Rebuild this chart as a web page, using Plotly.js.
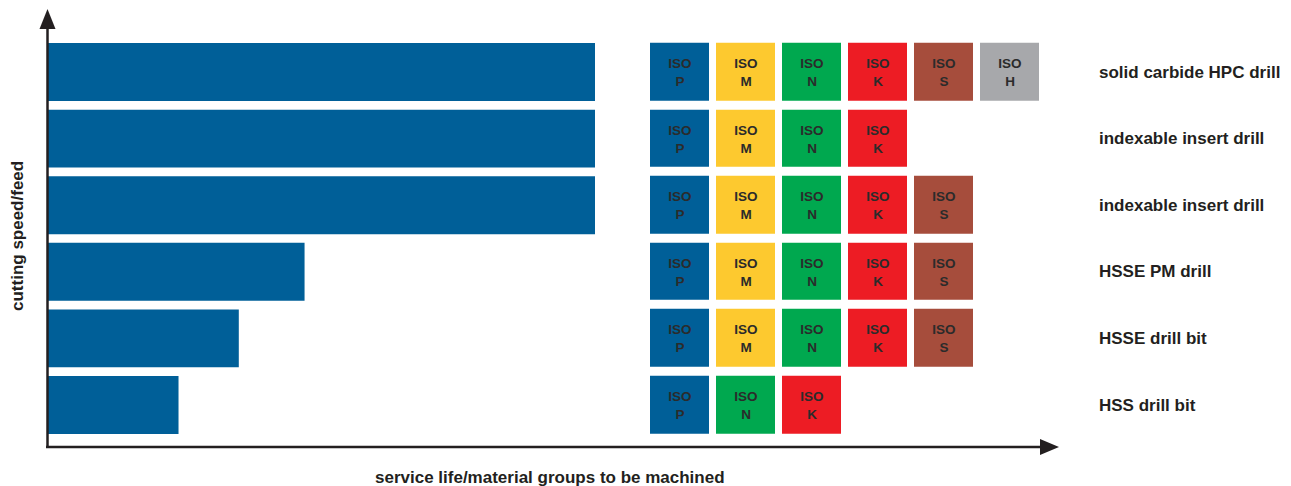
<!DOCTYPE html>
<html>
<head>
<meta charset="utf-8">
<script src="https://cdn.plot.ly/plotly-3.0.1.min.js"></script>
<style>
  html, body { margin: 0; padding: 0; background: #ffffff; }
  #chart { width: 1291px; height: 486px; }
</style>
</head>
<body>
<div id="chart"></div>
<script>
// ---- Data ----
const tools = [
  'solid carbide HPC drill',
  'indexable insert drill',
  'indexable insert drill',
  'HSSE PM drill',
  'HSSE drill bit',
  'HSS drill bit'
];
const serviceLife = [100, 100, 100, 47, 35, 24];
const materialGroups = [
  ['P', 'M', 'N', 'K', 'S', 'H'],
  ['P', 'M', 'N', 'K'],
  ['P', 'M', 'N', 'K', 'S'],
  ['P', 'M', 'N', 'K', 'S'],
  ['P', 'M', 'N', 'K', 'S'],
  ['P', 'N', 'K']
];
const isoCodes = ['P', 'M', 'N', 'K', 'S', 'H'];
const isoColors = ['#005f98', '#fdc92f', '#00a84f', '#ed1c24', '#a64d3c', '#a7a8ab'];
const xTitle = 'service life/material groups to be machined';
const yTitle = 'cutting speed/feed';

// ---- Build traces ----
const rowIdx = tools.map((_, i) => i);
const nCols = isoCodes.length;
const colIdx = isoCodes.map((_, j) => j);

const z = materialGroups.map(groups =>
  colIdx.map(j => (j < groups.length ? isoCodes.indexOf(groups[j]) : null)));
const txt = materialGroups.map(groups =>
  colIdx.map(j => (j < groups.length ? '<b>ISO</b><br><b>' + groups[j] + '</b>' : '')));

const colorscale = isoColors.map((c, k) => [k / (isoColors.length - 1), c]);

const fontFam = 'Liberation Sans, Arial, sans-serif';
const axisColor = '#231f20';

const barTrace = {
  type: 'bar',
  orientation: 'h',
  x: serviceLife,
  y: rowIdx,
  marker: { color: '#005f98', line: { width: 0 } },
  hoverinfo: 'x',
  xaxis: 'x',
  yaxis: 'y'
};

const isoTrace = {
  type: 'heatmap',
  z: z,
  x: colIdx,
  y: rowIdx,
  text: txt,
  texttemplate: '%{text}',
  textfont: { family: fontFam, size: 13.5, color: '#2b2b2b' },
  colorscale: colorscale,
  zmin: 0,
  zmax: isoColors.length - 1,
  showscale: false,
  xgap: 7,
  ygap: 9,
  hoverinfo: 'text',
  xaxis: 'x2',
  yaxis: 'y'
};

// ---- Geometry helpers (plot area: x 47..1060 px, y 10..447 px) ----
const L = 47, R = 1060, T = 10, B = 447;
const W = R - L, H = B - T;
const px = v => (v - L) / W;
const py = v => (B - v) / H;

const shapes = [
  // y axis line
  { type: 'line', xref: 'paper', yref: 'paper', x0: px(47.5), x1: px(47.5), y0: py(448), y1: py(26),
    line: { color: axisColor, width: 2.5 } },
  // y arrow head
  { type: 'path', xref: 'paper', yref: 'paper',
    path: `M ${px(39.5)} ${py(29)} L ${px(55.5)} ${py(29)} L ${px(47.5)} ${py(9)} Z`,
    fillcolor: axisColor, line: { width: 0 } },
  // x axis line
  { type: 'line', xref: 'paper', yref: 'paper', x0: px(46), x1: px(1044), y0: py(447), y1: py(447),
    line: { color: axisColor, width: 2.5 } },
  // x arrow head
  { type: 'path', xref: 'paper', yref: 'paper',
    path: `M ${px(1040)} ${py(439)} L ${px(1040)} ${py(455)} L ${px(1059)} ${py(447)} Z`,
    fillcolor: axisColor, line: { width: 0 } }
];

const labelSize = 17;
const annotations = tools.map((t, i) => ({
  xref: 'paper', yref: 'y', x: px(1097), y: i,
  xanchor: 'left', yanchor: 'middle', showarrow: false,
  text: '<b>' + t + '</b>',
  font: { family: fontFam, size: labelSize, color: axisColor }
}));
annotations.push({
  xref: 'paper', yref: 'paper', x: px(550), y: py(477.5),
  xanchor: 'center', yanchor: 'middle', showarrow: false,
  text: '<b>' + xTitle + '</b>',
  font: { family: fontFam, size: labelSize, color: axisColor }
});
annotations.push({
  xref: 'paper', yref: 'paper', x: px(17), y: py(236),
  xanchor: 'center', yanchor: 'middle', showarrow: false, textangle: -90,
  text: '<b>' + yTitle + '</b>',
  font: { family: fontFam, size: labelSize, color: axisColor }
});

// bar value 100 ends at x=595 px
const xMax = 100 * W / (595 - L);
// heatmap columns: col0 left edge 650 (gap 3.5 each side), pitch 66
const c2L = 650.5 - 3.5, c2R = c2L + 66 * nCols;

const layout = {
  width: 1291,
  height: 486,
  margin: { l: L, r: 1291 - R, t: T, b: 486 - B, pad: 0 },
  paper_bgcolor: '#ffffff',
  plot_bgcolor: '#ffffff',
  showlegend: false,
  bargap: 0.13,
  xaxis: {
    domain: [0, 1], range: [0, xMax],
    showgrid: false, zeroline: false, showline: false, showticklabels: false, ticks: ''
  },
  xaxis2: {
    domain: [px(c2L), px(c2R)], range: [-0.5, nCols - 0.5], anchor: 'y',
    showgrid: false, zeroline: false, showline: false, showticklabels: false, ticks: ''
  },
  yaxis: {
    range: [5 + (B - 405) / 66.6, -(72 - T) / 66.6],
    showgrid: false, zeroline: false, showline: false, showticklabels: false, ticks: ''
  },
  shapes: shapes,
  annotations: annotations
};

Plotly.newPlot('chart', [barTrace, isoTrace], layout, { displayModeBar: false, staticPlot: true });
</script>
</body>
</html>
